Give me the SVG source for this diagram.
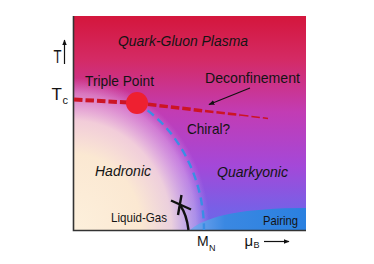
<svg xmlns="http://www.w3.org/2000/svg" width="374" height="264" viewBox="0 0 374 264">
<defs>
<linearGradient id="bg" x1="0" y1="16" x2="0" y2="230" gradientUnits="userSpaceOnUse">
<stop offset="0" stop-color="#d4163c"/>
<stop offset="0.2" stop-color="#d42a64"/>
<stop offset="0.45" stop-color="#c23cb4"/>
<stop offset="0.7" stop-color="#a448d8"/>
<stop offset="0.9" stop-color="#7860e6"/>
<stop offset="1" stop-color="#6a68e8"/>
</linearGradient>
<radialGradient id="cream" cx="73" cy="230" r="152" gradientUnits="userSpaceOnUse" gradientTransform="translate(73 230) scale(0.9 1) translate(-73 -230)">
<stop offset="0" stop-color="#fdf0dc"/>
<stop offset="0.5" stop-color="#fbe8d2"/>
<stop offset="0.72" stop-color="#f8dcdc" stop-opacity="0.9"/>
<stop offset="0.9" stop-color="#eec4ec" stop-opacity="0.45"/>
<stop offset="1.0" stop-color="#e0b0f0" stop-opacity="0"/>
</radialGradient>
<linearGradient id="pair" x1="190" y1="0" x2="306" y2="0" gradientUnits="userSpaceOnUse">
<stop offset="0" stop-color="#7aa8ee"/>
<stop offset="0.3" stop-color="#3a88e2"/>
<stop offset="1" stop-color="#2a80e0"/>
</linearGradient>
<marker id="ah" viewBox="0 0 10 10" refX="9" refY="5" markerWidth="6" markerHeight="6" orient="auto" markerUnits="userSpaceOnUse">
<path d="M0,1 L10,5 L0,9 Z" fill="#111"/>
</marker>
<style>
.t{font-family:"Liberation Sans",Arial,sans-serif;fill:#141414}
.i{font-style:italic}
.red{fill:none;stroke:#cc1424;stroke-dasharray:8.5 3}
.ax{stroke:#333;stroke-width:1.6;fill:none}
.ar{stroke:#111;stroke-width:1.2;fill:none}
</style>
</defs>
<g id="background">
<rect x="73" y="16" width="233" height="214" fill="url(#bg)"/>
<rect x="73" y="16" width="233" height="214" fill="url(#cream)"/>
<path d="M190,230 Q215,208 306,208 L306,230 Z" fill="url(#pair)"/>
</g>
<g id="axes">
<path class="ax" d="M73.5,16 L73.5,230.5 L306,230.5"/>
</g>
<g id="connectors">
<path class="red" d="M74,99.5 L137,103" stroke-width="4"/>
<path class="red" d="M148,104.3 L205,111" stroke-width="3.5"/>
<path class="red" d="M205,111 L240,115" stroke-width="2.6" stroke-dasharray="7 3"/>
<path class="red" d="M240,115 L268,118.5" stroke-width="1.5" stroke-dasharray="6 3"/>
<path d="M137,103 A131,146 0 0 1 204,230" fill="none" stroke="#3a8ee4" stroke-width="2.4" stroke-dasharray="8 5" stroke-dashoffset="-13"/>
<path class="ar" d="M250,88 L209,104.5" marker-end="url(#ah)"/>
<path class="ar" d="M64.5,64 L64.5,40" marker-end="url(#ah)"/>
<path class="ar" d="M264,241.5 L289,241.5" marker-end="url(#ah)"/>
</g>
<g id="triple-point">
<circle cx="137" cy="103" r="11" fill="#ee2030"/>
<text class="t" x="85" y="86" font-size="14" textLength="69" lengthAdjust="spacingAndGlyphs">Triple Point</text>
</g>
<g id="liquid-gas">
<path d="M180.5,206 Q186.5,214 188.5,230" fill="none" stroke="#111" stroke-width="2.4"/>
<path d="M171,200.5 L191,209.5 M181.5,195 L178,215" fill="none" stroke="#111" stroke-width="2.4"/>
<text class="t" x="111" y="221.7" font-size="13.5" textLength="56" lengthAdjust="spacingAndGlyphs">Liquid-Gas</text>
</g>
<g id="labels">
<text class="t i" x="118" y="46" font-size="15" textLength="130" lengthAdjust="spacingAndGlyphs">Quark-Gluon Plasma</text>
<text class="t" x="205" y="83" font-size="15" textLength="95" lengthAdjust="spacingAndGlyphs">Deconfinement</text>
<text class="t" x="187" y="134" font-size="14.5" textLength="43" lengthAdjust="spacingAndGlyphs">Chiral?</text>
<text class="t i" x="95" y="176" font-size="15" textLength="56" lengthAdjust="spacingAndGlyphs">Hadronic</text>
<text class="t i" x="217" y="177" font-size="15.5" textLength="71" lengthAdjust="spacingAndGlyphs">Quarkyonic</text>
<text class="t" x="263" y="224.7" font-size="13" textLength="35" lengthAdjust="spacingAndGlyphs">Pairing</text>
</g>
<g id="axis-labels">
<text class="t" x="53.5" y="63" font-size="18" textLength="8" lengthAdjust="spacingAndGlyphs">T</text>
<text class="t" x="51.5" y="100" font-size="17">T</text>
<text class="t" x="62.5" y="103.5" font-size="11">c</text>
<text class="t" x="197" y="246" font-size="14">M</text>
<text class="t" x="209" y="251" font-size="9">N</text>
<text class="t" x="244.5" y="246" font-size="15">μ</text>
<text class="t" x="253.5" y="248" font-size="9">B</text>
</g>
</svg>
